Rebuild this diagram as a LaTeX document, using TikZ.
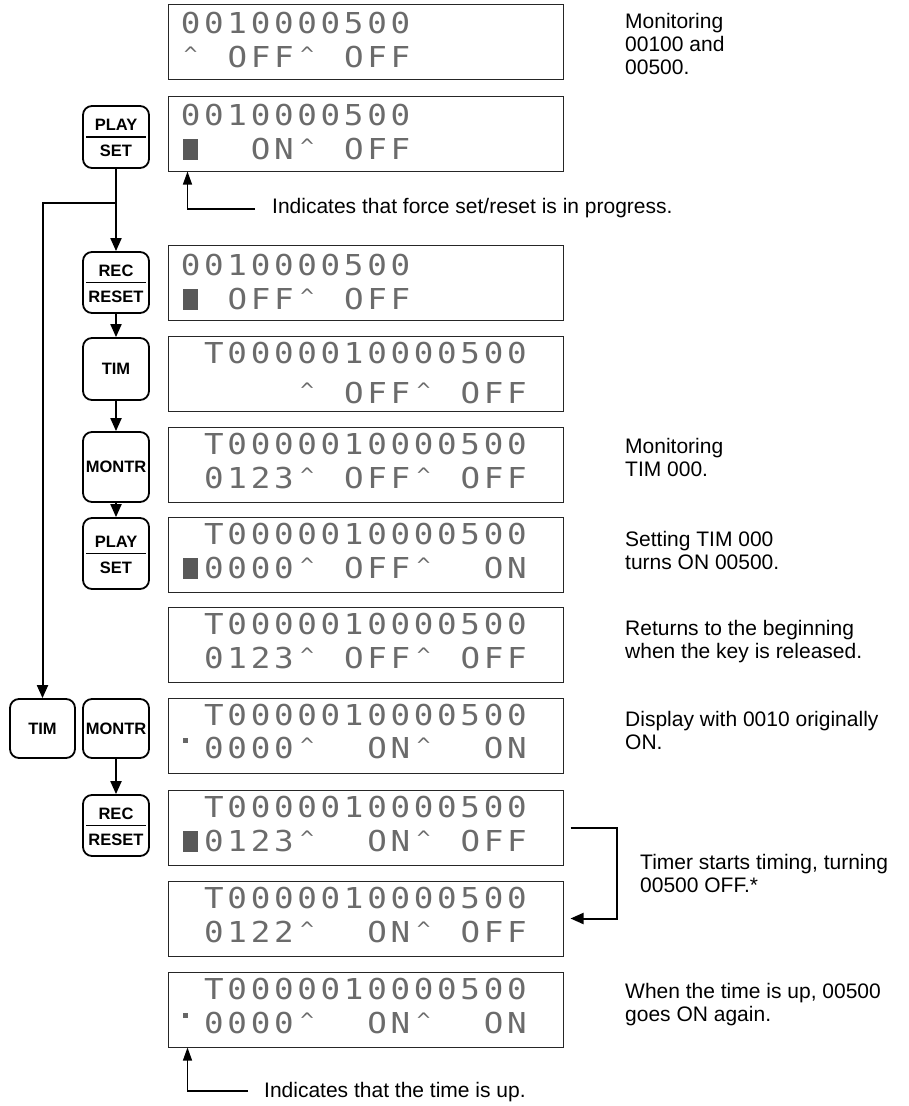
\documentclass[tikz,border=0pt]{standalone}
\usepackage{fontspec}
\setmainfont{Liberation Sans}
\newfontfamily\lcdfont[FakeStretch=1.13]{DejaVu Sans Mono}
\usetikzlibrary{arrows.meta}

\newdimen\lcdp \lcdp=23.3pt
\def\lcdloop#1{\ifx#1\relax\else\lcdone{#1}\expandafter\lcdloop\fi}
\def\lcdone#1{\ifx#1_\hbox to\lcdp{}\else\hbox to\lcdp{\hss#1\hss}\fi}
\newcommand\lcd[1]{{\fontsize{28.8pt}{30pt}\lcdfont\color{black!58}\lcdloop#1\relax}}
\newcommand\crt{{\fontsize{20pt}{20pt}\selectfont\raisebox{6pt}{\textasciicircum}}}
\newcommand\blk{\textcolor{black!65}{\rule{15pt}{21pt}}}
\newcommand\mkk{\makebox[15pt][l]{\textcolor{black!60}{\rule[15.5pt]{5pt}{5pt}}}}
\newcommand\notefont{\fontsize{21pt}{23pt}\selectfont}

\tikzset{
 disp/.style={draw=black!85, line width=1pt, minimum width=395pt, minimum height=75pt, inner sep=0pt},
 lcdt/.style={anchor=base west, inner sep=0pt},
 keyb/.style={draw, line width=1.8pt, rounded corners=9pt, minimum width=66pt, inner sep=0pt},
 keyl/.style={font=\fontsize{16.5pt}{16.5pt}\selectfont\bfseries, inner sep=0pt},
 divl/.style={line width=1.6pt},
 conn/.style={line width=2pt, -{Triangle[length=13pt,width=11pt]}},
 ind/.style={line width=1.1pt, -{Triangle[length=13pt,width=9pt]}},
 note/.style={anchor=base west, inner sep=0pt, font=\notefont},
}

\begin{document}
\begin{tikzpicture}[x=1pt,y=-1pt]
\useasboundingbox (0,0) rectangle (909,1106);

% ---------- displays ----------
\node[disp] (d1)  at (365.5, 41.5) {};
\node[disp] (d2)  at (365.5,133.5) {};
\node[disp] (d3)  at (365.5,282.5) {};
\node[disp] (d4)  at (365.5,374) {};
\node[disp] (d5)  at (365.5,464.5) {};
\node[disp] (d6)  at (365.5,554.5) {};
\node[disp] (d7)  at (365.5,644.5) {};
\node[disp] (d8)  at (365.5,735.5) {};
\node[disp] (d9)  at (365.5,827.5) {};
\node[disp] (d10) at (365.5,918.5) {};
\node[disp] (d11) at (365.5,1009.5) {};

\node[lcdt] (d1a) at (178.85,  33) {\lcd{0010000500}};
\node[lcdt] (d1b) at (178.85,  67.5) {\lcd{\crt_OFF\crt_OFF}};
\node[lcdt] (d2a) at (178.85, 125) {\lcd{0010000500}};
\node[lcdt] (d2b) at (178.85, 159.5) {\lcd{\blk__ON\crt_OFF}};
\node[lcdt] (d3a) at (178.85, 275) {\lcd{0010000500}};
\node[lcdt] (d3b) at (178.85, 309.5) {\lcd{\blk_OFF\crt_OFF}};
\node[lcdt] (d4a) at (178.85, 363.5) {\lcd{_T0000010000500}};
\node[lcdt] (d4b) at (178.85, 403.5) {\lcd{_____\crt_OFF\crt_OFF}};
\node[lcdt] (d5a) at (178.85, 454) {\lcd{_T0000010000500}};
\node[lcdt] (d5b) at (178.85, 488.5) {\lcd{_0123\crt_OFF\crt_OFF}};
\node[lcdt] (d6a) at (178.85, 544) {\lcd{_T0000010000500}};
\node[lcdt] (d6b) at (178.85, 578.5) {\lcd{\blk0000\crt_OFF\crt__ON}};
\node[lcdt] (d7a) at (178.85, 634) {\lcd{_T0000010000500}};
\node[lcdt] (d7b) at (178.85, 668.5) {\lcd{_0123\crt_OFF\crt_OFF}};
\node[lcdt] (d8a) at (178.85, 725) {\lcd{_T0000010000500}};
\node[lcdt] (d8b) at (178.85, 758.5) {\lcd{\mkk0000\crt__ON\crt__ON}};
\node[lcdt] (d9a) at (178.85, 817) {\lcd{_T0000010000500}};
\node[lcdt] (d9b) at (178.85, 851.5) {\lcd{\blk0123\crt__ON\crt_OFF}};
\node[lcdt] (d10a) at (178.85, 908) {\lcd{_T0000010000500}};
\node[lcdt] (d10b) at (178.85, 942.5) {\lcd{_0122\crt__ON\crt_OFF}};
\node[lcdt] (d11a) at (178.85, 999) {\lcd{_T0000010000500}};
\node[lcdt] (d11b) at (178.85,1033.5) {\lcd{\mkk0000\crt__ON\crt__ON}};

% ---------- keys ----------
\node[keyb, minimum height=62pt] (k1) at (116,137) {};
\node[keyl] (k1t) at ([yshift=12pt]k1.center) {PLAY};
\node[keyl] (k1b) at ([yshift=-14pt]k1.center) {SET};
\draw[divl] ([xshift=4pt]k1.west) -- ([xshift=-4pt]k1.east);

\node[keyb, minimum height=61pt] (k2) at (116,282.5) {};
\node[keyl] (k2t) at ([yshift=12pt]k2.center) {REC};
\node[keyl] (k2b) at ([yshift=-14pt]k2.center) {RESET};
\draw[divl] ([xshift=4pt]k2.west) -- ([xshift=-4pt]k2.east);

\node[keyb, minimum height=62pt] (k3) at (116,369) {};
\node[keyl] (k3t) at (k3.center) {TIM};

\node[keyb, minimum height=70pt] (k4) at (116,467) {};
\node[keyl] (k4t) at (k4.center) {MONTR};

\node[keyb, minimum height=71pt] (k5) at (116,553.5) {};
\node[keyl] (k5t) at ([yshift=12pt]k5.center) {PLAY};
\node[keyl] (k5b) at ([yshift=-14pt]k5.center) {SET};
\draw[divl] ([xshift=4pt]k5.west) -- ([xshift=-4pt]k5.east);

\node[keyb, minimum height=59pt, minimum width=65pt] (k6) at (42.5,728.5) {};
\node[keyl] (k6t) at (k6.center) {TIM};

\node[keyb, minimum height=59pt] (k7) at (116,728.5) {};
\node[keyl] (k7t) at (k7.center) {MONTR};

\node[keyb, minimum height=61pt] (k8) at (116,825.5) {};
\node[keyl] (k8t) at ([yshift=12pt]k8.center) {REC};
\node[keyl] (k8b) at ([yshift=-14pt]k8.center) {RESET};
\draw[divl] ([xshift=4pt]k8.west) -- ([xshift=-4pt]k8.east);

% ---------- key connectors ----------
\draw[conn] (k1.south) -- (k2.north);
\coordinate (br) at (116,203);
\draw[conn] (br) -| (k6.north);
\draw[conn] (k2.south) -- (k3.north);
\draw[conn] (k3.south) -- (k4.north);
\draw[conn] (k4.south) -- (k5.north);
\draw[conn] (k7.south) -- (k8.north);

% ---------- indicator notes ----------
\node[note] (n1) at (272,213) {Indicates that force set/reset is in progress.};
\coordinate (i1) at (255,209);
\draw[ind] (i1) -| ([xshift=20pt]d2.south west);

\node[note] (n2) at (264,1097) {Indicates that the time is up.};
\coordinate (i2) at (248,1091);
\draw[ind] (i2) -| ([xshift=20pt]d11.south west);

% ---------- bracket ----------
\coordinate (b1) at (617,875);
\draw[conn] ([xshift=7pt]d9.east) -| (b1) |- ([xshift=7pt]d10.east);

% ---------- right notes ----------
\node[note] (r1a) at (625,28) {Monitoring};
\node[note] (r1b) at (625,51) {00100 and};
\node[note] (r1c) at (625,74) {00500.};
\node[note] (r2a) at (625,453) {Monitoring};
\node[note] (r2b) at (625,476) {TIM 000.};
\node[note] (r3a) at (625,546) {Setting TIM 000};
\node[note] (r3b) at (625,569) {turns ON 00500.};
\node[note] (r4a) at (625,635) {Returns to the beginning};
\node[note] (r4b) at (625,658) {when the key is released.};
\node[note] (r5a) at (625,726) {Display with 0010 originally};
\node[note] (r5b) at (625,749) {ON.};
\node[note] (r6a) at (640,869) {Timer starts timing, turning};
\node[note] (r6b) at (640,892) {00500 OFF.*};
\node[note] (r7a) at (625,998) {When the time is up, 00500};
\node[note] (r7b) at (625,1021) {goes ON again.};
\end{tikzpicture}
\end{document}
